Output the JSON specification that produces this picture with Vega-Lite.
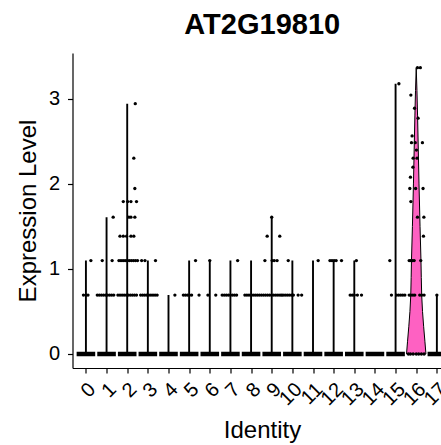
{
  "$schema": "https://vega.github.io/schema/vega-lite/v6.json",
  "width": 368.5,
  "height": 315,
  "autosize": {"type": "none"},
  "padding": {"left": 72.5, "top": 53, "right": 0, "bottom": 77},
  "background": "white",
  "title": {"text": "AT2G19810", "font": "Liberation Sans", "fontSize": 29, "fontWeight": "bold", "color": "black", "anchor": "middle", "frame": "group", "dx": 5.5, "dy": 28, "baseline": "alphabetic", "offset": 18},
  "datasets": {
    "zeros": [
      {"cluster": 0, "pos": -0.45, "pos2": 0.45, "v": 0},
      {"cluster": 1, "pos": 0.55, "pos2": 1.45, "v": 0},
      {"cluster": 2, "pos": 1.55, "pos2": 2.45, "v": 0},
      {"cluster": 3, "pos": 2.55, "pos2": 3.45, "v": 0},
      {"cluster": 4, "pos": 3.55, "pos2": 4.45, "v": 0},
      {"cluster": 5, "pos": 4.55, "pos2": 5.45, "v": 0},
      {"cluster": 6, "pos": 5.55, "pos2": 6.45, "v": 0},
      {"cluster": 7, "pos": 6.55, "pos2": 7.45, "v": 0},
      {"cluster": 8, "pos": 7.55, "pos2": 8.45, "v": 0},
      {"cluster": 9, "pos": 8.55, "pos2": 9.45, "v": 0},
      {"cluster": 10, "pos": 9.55, "pos2": 10.45, "v": 0},
      {"cluster": 11, "pos": 10.55, "pos2": 11.45, "v": 0},
      {"cluster": 12, "pos": 11.55, "pos2": 12.45, "v": 0},
      {"cluster": 13, "pos": 12.55, "pos2": 13.45, "v": 0},
      {"cluster": 14, "pos": 13.55, "pos2": 14.45, "v": 0},
      {"cluster": 15, "pos": 14.55, "pos2": 15.45, "v": 0},
      {"cluster": 17, "pos": 16.55, "pos2": 17.45, "v": 0}
    ],
    "maxima": [
      {"pos": 0, "v": 1.099, "v0": 0}, {"pos": 1, "v": 1.609, "v0": 0}, {"pos": 2, "v": 2.944, "v0": 0},
      {"pos": 3, "v": 1.099, "v0": 0}, {"pos": 4, "v": 0.693, "v0": 0}, {"pos": 5, "v": 1.099, "v0": 0},
      {"pos": 6, "v": 1.099, "v0": 0}, {"pos": 7, "v": 1.099, "v0": 0}, {"pos": 8, "v": 1.099, "v0": 0},
      {"pos": 9, "v": 1.609, "v0": 0}, {"pos": 10, "v": 1.099, "v0": 0}, {"pos": 11, "v": 1.099, "v0": 0},
      {"pos": 12, "v": 1.099, "v0": 0}, {"pos": 13, "v": 1.099, "v0": 0}, {"pos": 15, "v": 3.178, "v0": 0},
      {"pos": 17, "v": 0.693, "v0": 0}
    ],
    "violin": [
      {"v": 0, "pos": 15.53, "pos2": 16.47},
      {"v": 0.15, "pos": 15.58, "pos2": 16.42},
      {"v": 0.32, "pos": 15.64, "pos2": 16.36},
      {"v": 0.5, "pos": 15.695, "pos2": 16.305},
      {"v": 0.69, "pos": 15.735, "pos2": 16.265},
      {"v": 0.9, "pos": 15.755, "pos2": 16.245},
      {"v": 1.1, "pos": 15.77, "pos2": 16.23},
      {"v": 1.5, "pos": 15.815, "pos2": 16.185},
      {"v": 2.0, "pos": 15.865, "pos2": 16.135},
      {"v": 2.4, "pos": 15.9, "pos2": 16.1},
      {"v": 2.8, "pos": 15.935, "pos2": 16.065},
      {"v": 3.1, "pos": 15.965, "pos2": 16.035},
      {"v": 3.367, "pos": 16.0, "pos2": 16.0}
    ],
    "cells": [
      {"pos": 0.24, "v": 1.099}, {"pos": -0.12, "v": 0.693}, {"pos": 0.0, "v": 0.693}, {"pos": 0.1, "v": 0.693},
      {"pos": 1.32, "v": 1.609}, {"pos": 0.79, "v": 1.099}, {"pos": 1.27, "v": 1.099},
      {"pos": 0.55, "v": 0.693}, {"pos": 0.65, "v": 0.693}, {"pos": 0.75, "v": 0.693}, {"pos": 0.85, "v": 0.693}, {"pos": 0.95, "v": 0.693}, {"pos": 1.05, "v": 0.693}, {"pos": 1.15, "v": 0.693}, {"pos": 1.25, "v": 0.693}, {"pos": 1.35, "v": 0.693},
      {"pos": 2.39, "v": 2.944}, {"pos": 2.32, "v": 2.303}, {"pos": 2.37, "v": 1.946},
      {"pos": 1.81, "v": 1.792}, {"pos": 2.02, "v": 1.792}, {"pos": 2.18, "v": 1.792}, {"pos": 2.45, "v": 1.792},
      {"pos": 2.08, "v": 1.609}, {"pos": 2.18, "v": 1.609}, {"pos": 2.37, "v": 1.609},
      {"pos": 1.65, "v": 1.386}, {"pos": 1.81, "v": 1.386}, {"pos": 1.97, "v": 1.386}, {"pos": 2.18, "v": 1.386}, {"pos": 2.32, "v": 1.386},
      {"pos": 1.6, "v": 1.099}, {"pos": 1.7, "v": 1.099}, {"pos": 1.8, "v": 1.099}, {"pos": 1.9, "v": 1.099}, {"pos": 2.0, "v": 1.099}, {"pos": 2.1, "v": 1.099}, {"pos": 2.2, "v": 1.099}, {"pos": 2.3, "v": 1.099}, {"pos": 2.4, "v": 1.099}, {"pos": 2.5, "v": 1.099},
      {"pos": 1.55, "v": 0.693}, {"pos": 1.65, "v": 0.693}, {"pos": 1.75, "v": 0.693}, {"pos": 1.85, "v": 0.693}, {"pos": 1.95, "v": 0.693}, {"pos": 2.05, "v": 0.693}, {"pos": 2.15, "v": 0.693}, {"pos": 2.25, "v": 0.693}, {"pos": 2.35, "v": 0.693}, {"pos": 2.45, "v": 0.693},
      {"pos": 2.7, "v": 1.099}, {"pos": 2.86, "v": 1.099}, {"pos": 3.37, "v": 1.099},
      {"pos": 2.65, "v": 0.693}, {"pos": 2.75, "v": 0.693}, {"pos": 2.85, "v": 0.693}, {"pos": 2.95, "v": 0.693}, {"pos": 3.05, "v": 0.693}, {"pos": 3.15, "v": 0.693}, {"pos": 3.25, "v": 0.693}, {"pos": 3.35, "v": 0.693}, {"pos": 3.45, "v": 0.693},
      {"pos": 4.31, "v": 0.693},
      {"pos": 5.31, "v": 1.099},
      {"pos": 4.72, "v": 0.693}, {"pos": 4.82, "v": 0.693}, {"pos": 4.92, "v": 0.693}, {"pos": 5.02, "v": 0.693}, {"pos": 5.12, "v": 0.693}, {"pos": 5.48, "v": 0.693},
      {"pos": 6.0, "v": 1.099}, {"pos": 5.91, "v": 0.693}, {"pos": 6.29, "v": 0.693},
      {"pos": 7.35, "v": 1.099},
      {"pos": 6.6, "v": 0.693}, {"pos": 6.7, "v": 0.693}, {"pos": 6.8, "v": 0.693}, {"pos": 6.9, "v": 0.693}, {"pos": 7.0, "v": 0.693}, {"pos": 7.1, "v": 0.693}, {"pos": 7.2, "v": 0.693}, {"pos": 7.3, "v": 0.693},
      {"pos": 7.7, "v": 0.693}, {"pos": 7.8, "v": 0.693}, {"pos": 7.9, "v": 0.693}, {"pos": 8.0, "v": 0.693}, {"pos": 8.1, "v": 0.693}, {"pos": 8.2, "v": 0.693}, {"pos": 8.3, "v": 0.693}, {"pos": 8.4, "v": 0.693},
      {"pos": 9.0, "v": 1.609}, {"pos": 8.78, "v": 1.386}, {"pos": 9.39, "v": 1.386},
      {"pos": 8.67, "v": 1.099}, {"pos": 9.02, "v": 1.099}, {"pos": 9.12, "v": 1.099}, {"pos": 9.26, "v": 1.099},
      {"pos": 8.5, "v": 0.693}, {"pos": 8.6, "v": 0.693}, {"pos": 8.7, "v": 0.693}, {"pos": 8.8, "v": 0.693}, {"pos": 8.9, "v": 0.693}, {"pos": 9.0, "v": 0.693}, {"pos": 9.1, "v": 0.693}, {"pos": 9.2, "v": 0.693}, {"pos": 9.3, "v": 0.693}, {"pos": 9.4, "v": 0.693}, {"pos": 9.48, "v": 0.693},
      {"pos": 9.8, "v": 1.099},
      {"pos": 9.55, "v": 0.693}, {"pos": 9.65, "v": 0.693}, {"pos": 9.75, "v": 0.693}, {"pos": 9.85, "v": 0.693}, {"pos": 9.95, "v": 0.693}, {"pos": 10.05, "v": 0.693}, {"pos": 10.28, "v": 0.693}, {"pos": 10.45, "v": 0.693},
      {"pos": 11.25, "v": 1.099},
      {"pos": 11.82, "v": 1.099}, {"pos": 11.92, "v": 1.099}, {"pos": 12.02, "v": 1.099}, {"pos": 12.12, "v": 1.099}, {"pos": 12.38, "v": 1.099},
      {"pos": 13.1, "v": 1.099},
      {"pos": 12.8, "v": 0.693}, {"pos": 12.9, "v": 0.693}, {"pos": 13.0, "v": 0.693}, {"pos": 13.15, "v": 0.693}, {"pos": 13.35, "v": 0.693},
      {"pos": 15.16, "v": 3.178}, {"pos": 14.72, "v": 1.099},
      {"pos": 14.8, "v": 0.693}, {"pos": 15.05, "v": 0.693}, {"pos": 15.15, "v": 0.693}, {"pos": 15.25, "v": 0.693}, {"pos": 15.35, "v": 0.693}, {"pos": 15.45, "v": 0.693},
      {"pos": 16.06, "v": 3.367}, {"pos": 16.2, "v": 3.367}, {"pos": 15.74, "v": 3.045}, {"pos": 15.92, "v": 2.89}, {"pos": 16.09, "v": 2.773},
      {"pos": 15.8, "v": 2.565}, {"pos": 15.77, "v": 2.485}, {"pos": 15.95, "v": 2.485}, {"pos": 16.3, "v": 2.485}, {"pos": 16.01, "v": 2.398},
      {"pos": 15.85, "v": 2.303}, {"pos": 16.04, "v": 2.303}, {"pos": 15.84, "v": 2.197}, {"pos": 15.72, "v": 2.079},
      {"pos": 15.69, "v": 1.946}, {"pos": 15.97, "v": 1.946}, {"pos": 16.33, "v": 1.946}, {"pos": 15.74, "v": 1.792},
      {"pos": 16.06, "v": 1.609}, {"pos": 16.37, "v": 1.609}, {"pos": 16.35, "v": 1.386},
      {"pos": 15.66, "v": 1.099}, {"pos": 15.74, "v": 1.099}, {"pos": 15.82, "v": 1.099}, {"pos": 15.9, "v": 1.099}, {"pos": 16.22, "v": 1.099},
      {"pos": 15.66, "v": 0.693}, {"pos": 15.74, "v": 0.693}, {"pos": 15.84, "v": 0.693}, {"pos": 15.93, "v": 0.693}, {"pos": 16.17, "v": 0.693}, {"pos": 16.27, "v": 0.693}, {"pos": 16.38, "v": 0.693},
      {"pos": 15.62, "v": 0}, {"pos": 15.72, "v": 0}, {"pos": 15.85, "v": 0}, {"pos": 16.0, "v": 0}, {"pos": 16.12, "v": 0}, {"pos": 16.25, "v": 0}, {"pos": 16.38, "v": 0},
      {"pos": 17.0, "v": 0.693}
    ]
  },
  "encoding": {
    "x": {
      "field": "pos", "type": "quantitative", "title": "Identity",
      "scale": {"domain": [-0.65, 17.2], "nice": false, "zero": false},
      "axis": {
        "values": [0, 1, 2, 3, 4, 5, 6, 7, 8, 9, 10, 11, 12, 13, 14, 15, 16, 17],
        "format": "d", "grid": false,
        "labelAngle": -45, "labelAlign": "right", "labelBaseline": "middle",
        "labelFont": "Liberation Sans", "labelFontSize": 20, "labelColor": "black",
        "labelOverlap": false, "labelBound": false, "labelFlush": false,
        "labelPadding": 13, "labelOffset": 6,
        "tickSize": 5, "tickColor": "black", "tickWidth": 1.2,
        "domainColor": "black", "domainWidth": 1.2,
        "titleFont": "Liberation Sans", "titleFontSize": 24, "titleFontWeight": "normal", "titleColor": "black",
        "titleX": 189.5, "titleY": 69, "titleBaseline": "alphabetic", "titleAlign": "center"
      }
    },
    "y": {
      "field": "v", "type": "quantitative", "title": "Expression Level",
      "scale": {"domain": [-0.165, 3.54], "nice": false, "zero": false},
      "axis": {
        "values": [0, 1, 2, 3], "format": "d", "grid": false,
        "labelAngle": 0, "labelAlign": "right", "labelBaseline": "middle",
        "labelFont": "Liberation Sans", "labelFontSize": 20, "labelColor": "black", "labelPadding": 8,
        "tickSize": 5, "tickColor": "black", "tickWidth": 1.2,
        "domainColor": "black", "domainWidth": 1.2,
        "titleFont": "Liberation Sans", "titleFontSize": 24, "titleFontWeight": "normal", "titleColor": "black",
        "titleAngle": -90, "titlePadding": 8
      }
    }
  },
  "layer": [
    {
      "data": {"name": "zeros"},
      "mark": {"type": "rule", "color": "black", "strokeWidth": 4.5, "clip": true},
      "encoding": {"x2": {"field": "pos2"}}
    },
    {
      "data": {"name": "maxima"},
      "mark": {"type": "rule", "color": "black", "strokeWidth": 1.9, "clip": true},
      "encoding": {"y2": {"field": "v0"}}
    },
    {
      "data": {"name": "violin"},
      "mark": {"type": "area", "orient": "horizontal", "color": "#FE61C2", "fillOpacity": 1, "stroke": "black", "strokeWidth": 1, "clip": true},
      "encoding": {"x2": {"field": "pos2"}}
    },
    {
      "data": {"name": "cells"},
      "mark": {"type": "circle", "color": "black", "size": 11, "opacity": 1, "clip": true},
      "encoding": {}
    }
  ],
  "config": {"view": {"stroke": null}, "font": "Liberation Sans"}
}
